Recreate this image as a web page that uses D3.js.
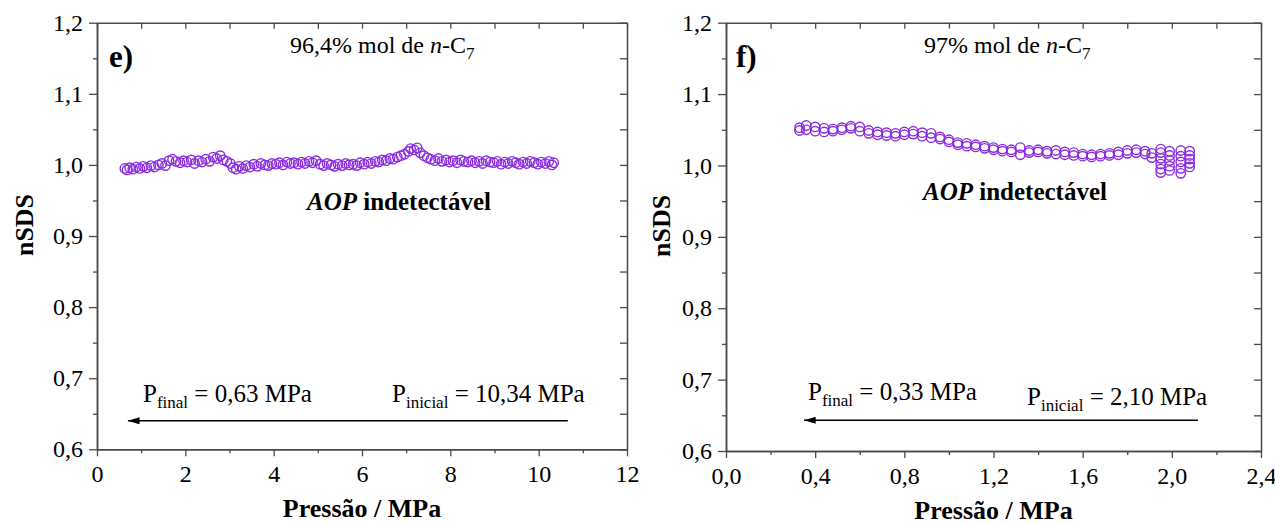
<!DOCTYPE html>
<html>
<head>
<meta charset="utf-8">
<script src="https://cdn.jsdelivr.net/npm/d3@7"></script>
<style>
  body { margin: 0; background: #fff; }
  svg { display: block; font-family: "Liberation Serif", "Times New Roman", serif; }
</style>
</head>
<body>
<div id="chart"></div>
<script>
// panel e) : 96,4% mol de n-C7
const pressureE = [0.63, 0.68, 0.74, 0.81, 0.89, 0.97, 1.05, 1.13, 1.22, 1.30, 1.39, 1.47, 1.55, 1.63, 1.71, 1.79, 1.88, 1.96, 2.04, 2.13,
  2.21, 2.30, 2.38, 2.46, 2.55, 2.63, 2.71, 2.79, 2.86, 2.94, 3.02, 3.08, 3.15, 3.22, 3.30, 3.38, 3.46, 3.55, 3.63, 3.71,
  3.80, 3.88, 3.96, 4.05, 4.13, 4.21, 4.30, 4.38, 4.46, 4.55, 4.63, 4.71, 4.80, 4.88, 4.96, 5.05, 5.13, 5.21, 5.30, 5.38,
  5.46, 5.55, 5.63, 5.71, 5.80, 5.88, 5.96, 6.05, 6.13, 6.21, 6.30, 6.38, 6.46, 6.55, 6.63, 6.71, 6.80, 6.88, 6.96, 7.05,
  7.10, 7.18, 7.25, 7.32, 7.40, 7.48, 7.56, 7.65, 7.73, 7.81, 7.90, 7.98, 8.06, 8.15, 8.23, 8.31, 8.40, 8.48, 8.56, 8.65,
  8.73, 8.81, 8.90, 8.98, 9.06, 9.15, 9.23, 9.31, 9.40, 9.48, 9.56, 9.65, 9.73, 9.81, 9.90, 9.98, 10.06, 10.15, 10.23, 10.30, 10.34];
const nsdsE = [0.995, 0.993, 0.996, 0.994, 0.997, 0.995, 0.998, 0.996, 0.999, 0.997, 1.000, 1.002, 0.999, 1.006, 1.008, 1.005, 1.003, 1.006, 1.004, 1.007,
  1.002, 1.006, 1.004, 1.008, 1.005, 1.011, 1.009, 1.013, 1.007, 1.005, 1.002, 0.996, 0.994, 0.998, 0.995, 0.999, 0.997, 1.001, 0.998, 1.002,
  1.000, 0.999, 1.002, 1.001, 1.003, 1.000, 1.004, 1.002, 1.003, 1.001, 1.004, 1.002, 1.005, 1.003, 1.006, 1.001, 0.999, 1.002, 1.000, 0.998,
  1.001, 0.999, 1.002, 1.000, 1.001, 0.999, 1.003, 1.001, 1.004, 1.002, 1.005, 1.004, 1.007, 1.006, 1.009, 1.008, 1.011, 1.013, 1.015, 1.019,
  1.023, 1.021, 1.024, 1.017, 1.013, 1.010, 1.008, 1.006, 1.009, 1.005, 1.007, 1.004, 1.006, 1.003, 1.007, 1.005, 1.004, 1.006, 1.003, 1.005,
  1.002, 1.006, 1.004, 1.003, 1.005, 1.001, 1.004, 1.002, 1.005, 1.003, 1.001, 1.004, 1.002, 1.005, 1.003, 1.001, 1.004, 1.002, 1.005, 1.000, 1.003];

// panel f) : 97% mol de n-C7
const pressureF = [0.33, 0.33, 0.36, 0.36, 0.40, 0.40, 0.44, 0.44, 0.48, 0.48, 0.52, 0.52, 0.56, 0.56, 0.60, 0.60, 0.64, 0.64, 0.68, 0.68,
  0.72, 0.72, 0.76, 0.76, 0.80, 0.80, 0.84, 0.84, 0.88, 0.88, 0.92, 0.92, 0.96, 0.96, 1.00, 1.00, 1.04, 1.04, 1.08, 1.08,
  1.12, 1.12, 1.16, 1.16, 1.20, 1.20, 1.24, 1.24, 1.28, 1.28, 1.32, 1.32, 1.36, 1.36, 1.40, 1.40, 1.44, 1.44, 1.48, 1.48,
  1.52, 1.52, 1.56, 1.56, 1.60, 1.60, 1.64, 1.64, 1.68, 1.68, 1.72, 1.72, 1.76, 1.76, 1.80, 1.80, 1.84, 1.84, 1.88, 1.88,
  1.91, 1.91, 1.95, 1.95, 1.95, 1.95, 1.95, 1.95, 1.99, 1.99, 1.99, 1.99, 1.99, 2.04, 2.04, 2.04, 2.04, 2.04,
  2.08, 2.08, 2.08, 2.08, 2.08];
const nsdsF = [1.053, 1.049, 1.050, 1.056, 1.048, 1.054, 1.052, 1.047, 1.051, 1.048, 1.053, 1.050, 1.055, 1.052, 1.054, 1.048, 1.049, 1.045, 1.047, 1.043,
  1.046, 1.042, 1.045, 1.041, 1.047, 1.043, 1.048, 1.044, 1.046, 1.041, 1.045, 1.039, 1.040, 1.037, 1.036, 1.033, 1.032, 1.029, 1.031, 1.027,
  1.029, 1.026, 1.027, 1.024, 1.025, 1.022, 1.023, 1.020, 1.022, 1.019, 1.025, 1.015, 1.021, 1.018, 1.022, 1.019, 1.020, 1.017, 1.021, 1.016,
  1.019, 1.015, 1.018, 1.014, 1.016, 1.013, 1.015, 1.012, 1.016, 1.013, 1.017, 1.014, 1.019, 1.015, 1.021, 1.017, 1.022, 1.018, 1.020, 1.016,
  1.017, 1.011, 1.023, 1.018, 1.010, 1.002, 0.995, 0.990, 1.020, 1.014, 1.007, 0.999, 0.993, 1.021, 1.013, 1.005, 0.996, 0.989,
  1.020, 1.014, 1.009, 1.003, 0.998];

const xTicksE = [0, 2, 4, 6, 8, 10, 12];
const xTicksF = [0, 0.4, 0.8, 1.2, 1.6, 2.0, 2.4];
const yTicks = [0.6, 0.7, 0.8, 0.9, 1.0, 1.1, 1.2];

// arrow: [from P, to P, nSDS]
const arrowE = [10.66, 0.70, 0.640];
const arrowF = [2.117, 0.35, 0.643];

const W = 1275, H = 524;
const markColor = "#8a2be2", frameColor = "#4a4a4a";

const svg = d3.select("#chart").append("svg")
  .attr("width", W).attr("height", H)
  .style("background", "#fff");

svg.append("defs").append("marker")
  .attr("id", "head")
  .attr("viewBox", "0 0 10 6")
  .attr("refX", 10).attr("refY", 3)
  .attr("markerUnits", "userSpaceOnUse")
  .attr("markerWidth", 13).attr("markerHeight", 7)
  .attr("orient", "auto")
  .append("path").attr("d", "M0,0L10,3L0,6Z").attr("fill", "#000");

const comma = f => v => f(v).replace(".", ",");

const panels = [
  { tag: "e", left: 97, right: 627, top: 22.7, bottom: 449.3, xDomain: [0, 12], xTicks: xTicksE, xMinor: 1, xFmt: comma(d3.format("d")),
    px: pressureE, py: nsdsE, arrow: arrowE,
    title: "96,4", titleX: 290, aopX: 307, aopY: 210, pfX: 143, pfY: 402, pf: "0,63", piX: 392, piY: 402, pi: "10,34", yLabX: 33, xLabY: 517 },
  { tag: "f", left: 726, right: 1261, top: 22.7, bottom: 451, xDomain: [0, 2.4], xTicks: xTicksF, xMinor: 0.2, xFmt: comma(d3.format(".1f")),
    px: pressureF, py: nsdsF, arrow: arrowF,
    title: "97", titleX: 924, aopX: 923, aopY: 200, pfX: 808, pfY: 400, pf: "0,33", piX: 1027, piY: 405, pi: "2,10", yLabX: 670, xLabY: 519 }
];

panels.forEach(p => {
  const x = d3.scaleLinear().domain(p.xDomain).range([p.left, p.right]);
  const y = d3.scaleLinear().domain([0.6, 1.2]).range([p.bottom, p.top]);
  const xMinorTicks = d3.range(p.xDomain[0], p.xDomain[1] + 1e-9, p.xMinor).map(v => +v.toFixed(3))
    .filter(v => !p.xTicks.some(t => Math.abs(t - v) < 1e-6));
  const yMinorTicks = [0.65, 0.75, 0.85, 0.95, 1.05, 1.15];

  const g = svg.append("g");

  // bottom axis
  g.append("g").attr("transform", `translate(0,${p.bottom})`)
    .call(d3.axisBottom(x).tickValues(p.xTicks).tickFormat(p.xFmt).tickSizeInner(7).tickSizeOuter(0).tickPadding(9));
  g.append("g").attr("transform", `translate(0,${p.bottom})`)
    .call(d3.axisBottom(x).tickValues(xMinorTicks).tickFormat("").tickSizeInner(4).tickSizeOuter(0));
  // top axis (ticks inward)
  g.append("g").attr("transform", `translate(0,${p.top})`)
    .call(d3.axisTop(x).tickValues(p.xTicks.concat(xMinorTicks)).tickFormat("").tickSizeInner(-6).tickSizeOuter(0));
  // left axis
  g.append("g").attr("transform", `translate(${p.left},0)`)
    .call(d3.axisLeft(y).tickValues(yTicks).tickFormat(comma(d3.format(".1f"))).tickSizeInner(8).tickSizeOuter(0).tickPadding(6));
  g.append("g").attr("transform", `translate(${p.left},0)`)
    .call(d3.axisLeft(y).tickValues(yMinorTicks).tickFormat("").tickSizeInner(4).tickSizeOuter(0));
  // right axis (ticks inward)
  g.append("g").attr("transform", `translate(${p.right},0)`)
    .call(d3.axisRight(y).tickValues(yTicks.concat(yMinorTicks)).tickFormat("").tickSizeInner(-7).tickSizeOuter(0));

  g.selectAll(".domain").attr("stroke", frameColor).attr("stroke-width", 1.5);
  g.selectAll(".tick line").attr("stroke", frameColor).attr("stroke-width", 1.3);
  g.selectAll(".tick text").attr("fill", "#000").style("font-size", "24px")
    .style("font-family", "'Liberation Serif', 'Times New Roman', serif");

  // axis titles
  g.append("text")
    .attr("transform", `translate(${p.yLabX},${(p.top + p.bottom) / 2 - 11}) rotate(-90)`)
    .attr("text-anchor", "middle").style("font-size", "26px").style("font-weight", "bold")
    .text("nSDS");
  g.append("text")
    .attr("x", (p.left + p.right) / 2).attr("y", p.xLabY)
    .attr("text-anchor", "middle").style("font-size", "26px").style("font-weight", "bold")
    .text("Pressão / MPa");

  // data
  g.append("g").selectAll("circle")
    .data(p.px.map((v, i) => [v, p.py[i]]))
    .join("circle")
    .attr("cx", d => x(d[0])).attr("cy", d => y(d[1]))
    .attr("r", 4.7)
    .attr("fill", "none").attr("stroke", markColor).attr("stroke-width", 1.4);

  // panel tag
  g.append("text").attr("x", p.left + (p.tag === "e" ? 12 : 10)).attr("y", 67)
    .style("font-size", "31px").style("font-weight", "bold").text(p.tag + ")");

  // composition
  const t = g.append("text").attr("x", p.titleX).attr("y", 53).style("font-size", "24px");
  t.append("tspan").text(p.title + "% mol de ");
  t.append("tspan").style("font-style", "italic").text("n");
  t.append("tspan").text("-C");
  t.append("tspan").attr("dy", 6).style("font-size", "17px").text("7");

  // AOP indetectável
  const a = g.append("text").attr("x", p.aopX).attr("y", p.aopY)
    .style("font-size", "25px").style("font-weight", "bold");
  a.append("tspan").style("font-style", "italic").text("AOP");
  a.append("tspan").text(" indetectável");

  // pressures
  const pf = g.append("text").attr("x", p.pfX).attr("y", p.pfY).style("font-size", "25px");
  pf.append("tspan").text("P");
  pf.append("tspan").attr("dy", 6).style("font-size", "17px").text("final");
  pf.append("tspan").attr("dy", -6).text(" = " + p.pf + " MPa");

  const pi = g.append("text").attr("x", p.piX).attr("y", p.piY).style("font-size", "25px");
  pi.append("tspan").text("P");
  pi.append("tspan").attr("dy", 6).style("font-size", "17px").text("inicial");
  pi.append("tspan").attr("dy", -6).text(" = " + p.pi + " MPa");

  // arrow
  g.append("line")
    .attr("x1", x(p.arrow[0])).attr("y1", y(p.arrow[2]))
    .attr("x2", x(p.arrow[1])).attr("y2", y(p.arrow[2]))
    .attr("stroke", "#000").attr("stroke-width", 1.5)
    .attr("marker-end", "url(#head)");
});
</script>
</body>
</html>
